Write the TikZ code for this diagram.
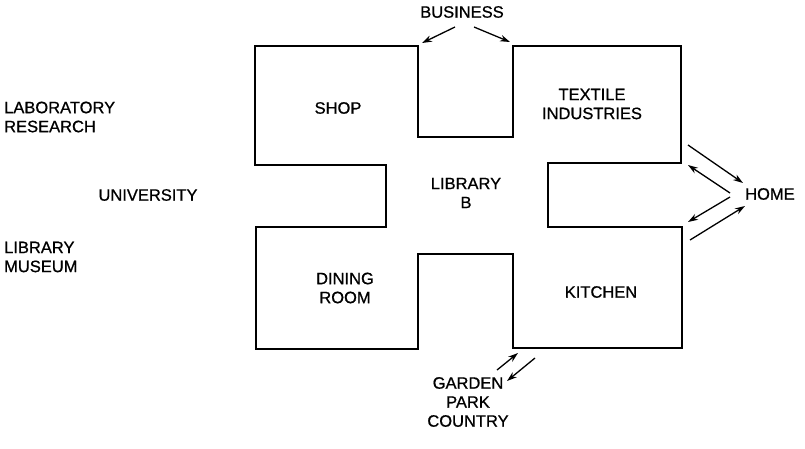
\documentclass[tikz,border=0pt]{standalone}
\usepackage{fontspec}
\setmainfont[FakeBold=0.8]{Liberation Sans}
\usetikzlibrary{arrows.meta}
\begin{document}
\begin{tikzpicture}[x=1pt,y=-1pt,
 wall/.style={line width=2.4pt, line join=miter},
 lbl/.style={font=\fontsize{16.5}{19}\selectfont, align=center, inner sep=0pt},
 lbll/.style={lbl, align=left, anchor=west},
 arr/.style={line width=1.3pt, -{Stealth[length=10pt,width=6.5pt]}}]
\useasboundingbox (0,0) rectangle (805,448);
% building plan
\draw[wall] (255,46) -- (418,46) -- (418,137) -- (513,137) -- (513,46) -- (681,46)
  -- (681,163) -- (548,163) -- (548,227) -- (682,227) -- (682,348) -- (513,348)
  -- (513,254) -- (418,254) -- (418,349) -- (256,349) -- (256,227) -- (386,227)
  -- (386,165) -- (255,165) -- cycle;
% rooms
\node[lbl] (shop) at (338,108) {SHOP};
\node[lbl] (textile) at (592,104) {TEXTILE\\INDUSTRIES};
\node[lbl] (library) at (466,193) {LIBRARY\\B};
\node[lbl] (dining) at (345,288) {DINING\\ROOM};
\node[lbl] (kitchen) at (601,292) {KITCHEN};
% outside
\node[lbl] (business) at (462,12) {BUSINESS};
\node[lbll] (lab) at (4,117) {LABORATORY\\RESEARCH};
\node[lbl] (univ) at (148,195) {UNIVERSITY};
\node[lbll] (libmus) at (4,257) {LIBRARY\\MUSEUM};
\node[lbll] (home) at (745,194) {HOME};
\node[lbl] (garden) at (468,402) {GARDEN\\PARK\\COUNTRY};
% arrow ends
\coordinate (b1s) at (455,27); \coordinate (b1e) at (422,43);
\coordinate (b2s) at (474,27); \coordinate (b2e) at (510,42);
\coordinate (h1s) at (688,145); \coordinate (h1e) at (743,183);
\coordinate (h2s) at (730,193); \coordinate (h2e) at (688,165);
\coordinate (h3s) at (730,197); \coordinate (h3e) at (688,222);
\coordinate (h4s) at (690,240); \coordinate (h4e) at (745,206);
\coordinate (g1s) at (497,370); \coordinate (g1e) at (518,353);
\coordinate (g2s) at (535,358); \coordinate (g2e) at (507,381);
\draw[arr] (b1s) -- (b1e);
\draw[arr] (b2s) -- (b2e);
\draw[arr] (h1s) -- (h1e);
\draw[arr] (h2s) -- (h2e);
\draw[arr] (h3s) -- (h3e);
\draw[arr] (h4s) -- (h4e);
\draw[arr] (g1s) -- (g1e);
\draw[arr] (g2s) -- (g2e);
\end{tikzpicture}
\end{document}
